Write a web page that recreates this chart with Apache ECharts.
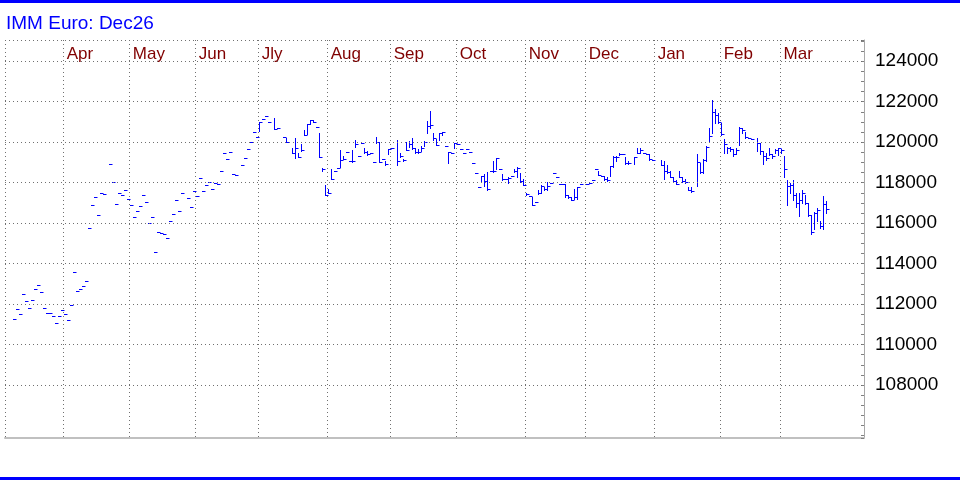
<!DOCTYPE html>
<html>
<head>
<meta charset="utf-8">
<title>IMM Euro: Dec26</title>
<script src="https://cdn.jsdelivr.net/npm/echarts@6.0.0/dist/echarts.min.js"></script>
<style>
  html, body { margin: 0; padding: 0; background: #fff; }
  #chart { width: 960px; height: 480px; }
</style>
</head>
<body>
<div id="chart"></div>
<script>
// month labels and the trading-day index where each month starts
var monthNames = ["Apr", "May", "Jun", "Jly", "Aug", "Sep", "Oct", "Nov", "Dec", "Jan", "Feb", "Mar"];
var monthStarts = [17, 39, 61, 82, 105, 126, 148, 171, 191, 214, 236, 256];

// price labels on the right axis
var yTicks = [108000, 110000, 112000, 114000, 116000, 118000, 120000, 122000, 124000];

// single-price days (no range), trading days 0..81
var earlyQuotes = [
  111250, 111750, 111500, 112500, 112150, 111800, 112200, 112750, 112950, 112600,
  111800, 111550, 111550, 111400, 111050, 111400, 111700, 111500, 111200, 111950,
  113600, 112650, 112750, 112900, 113150, 115750, 116900, 117300, 116400, 117500,
  117450, null, 118900, 118050, 116950, 117500, 117400, 117650, 117200, 116900,
  116300, 116600, 116850, 117400, 117050, 116000, 116300, 114550, 115550, 115500,
  115450, 115250, 116100, 116450, 117150, 116600, 117500, null, 117250, 116800,
  117600, 117350, 118250, 117600, 117900, 118050, 117700, 118000, 117950, 118600,
  119450, 119150, 119500, 118450, 118400, null, 118850, 119200, 119650, 120000,
  120500, 120250
];

// high / low / close bars, trading days 82..271
var highs = [
  121000, 121150, 121300, 121000, null, 121200, 120700, null,
  120250, 120200, null, 119700, 120200, 119450, 119900, 120600, 120900, 121100,
  121100, 120750, 120450, 118700, 117900, 117700, 118650, 118600, 118700, 119600,
  119300, 119500, 119050, 119600, 120100, 119300, 119950, 119700, 119550, 119450,
  119000, 120250, 120000, 119150, 119050, 119650, 119700, null, 120100, 119450,
  119150, 120000, 120050, 120200, 119700, 119650, 119800, 120050, 121050, 121550,
  120450, 120150, 120450, 120500, 119800, 119500, 119450, 119950, 119900, 119650,
  119450, 119650, 119500, 118950, 118500, 117800, 118350, 118450, 118550, 118600,
  119050, 119200, 118650, 118450, 118200, 118300, 118350, 118650, 118750, 118500,
  118200, 117500, 117350, 117300, 117050, 117650, 117900, 117800, 118050, 118000,
  118500, 118300, 117950, 117950, 117950, 117400, 117300, 117700, 117800, 117950,
  null, 117950, 118000, 118150, 118650, 118600, 118350, 118350, 118300, 118800,
  119300, 119300, 119450, 119400, 119250, 119050, null, 119250, 119700, 119700,
  119450, 119400, 119400, 119100, null, null, 119100, 119050, 118850, 118600,
  118300, 118150, 118600, 118300, 118200, 117800, 117800, null, 119400, 118950,
  119150, 119800, 120700, 122100, 121650, 121450, 120950, 120150, 119750, 119750,
  119650, 119700, 120750, 120700, 120500, 120200, 120150, null, 120200, 119950,
  119550, 119450, 119700, 119400, 119650, 119700, 119650, 119300, 118150, 118000,
  118150, 117500, 117500, 117650, 117400, 117000, 116400, 116550, 116750, 116100,
  117350, 117100
];
var lows = [
  120550, 121150, 121300, 121000, null, 120650, 120700, null,
  120250, 120000, null, 119450, 119200, 119250, 119550, 120350, 120400, 120900,
  121000, 120750, 119250, 118600, 117400, 117500, 118200, 118600, 118700, 118750,
  119150, 119500, 119050, 119000, 119750, 119300, 119950, 119450, 119350, 119450,
  119000, 119950, 119000, 119150, 118850, 119400, 119700, null, 118850, 119250,
  119050, 119600, 119750, 119650, 119450, 119450, 119550, 119800, 120450, 120700,
  120100, 119850, 120100, 120350, 119800, 118950, 119450, 119700, 119900, 119650,
  119450, 119650, 119500, 118950, 118500, 117800, 118050, 117850, 117650, 118600,
  118550, 118650, 118650, 118150, 118200, 118000, 118350, 118550, 118300, 118050,
  117900, 117400, 117350, 116900, 117050, 117450, 117500, 117650, 117650, 118000,
  118500, 118300, 117950, 117950, 117300, 117250, 117150, 117200, 117200, 117950,
  null, 117950, 118000, 118150, 118650, 118400, 118350, 118150, 118100, 118350,
  118750, 119050, 119350, 119400, 118900, 118900, null, 118900, 119450, 119450,
  119450, 119400, 119100, 119100, null, null, 118850, 118200, 118500, 118300,
  118100, 117950, 118300, 118050, 118000, 117650, 117550, null, 117850, 118500,
  118500, 119050, 120000, 120450, 120950, 120950, 120350, 119450, 119450, 119550,
  119300, 119400, 119850, 120450, 120200, 120200, 120150, null, 119550, 119400,
  118900, 119100, 119350, 119200, 119450, 119350, 119450, 118300, 116900, 117500,
  117150, 116800, 116350, 117000, 116950, 116350, 115450, 115700, 116100, 115750,
  115700, 116500
];
var closes = [
  121000, 121150, 121300, 121000, null, 120650, 120700, null,
  120250, 120000, null, 119450, 119700, 119250, 119600, 120350, 120900, 121100,
  121000, 120750, 119250, 118650, 117400, 117500, 118200, 118600, 118700, 119100,
  119150, 119500, 119050, 119050, 119900, 119300, 119950, 119500, 119400, 119450,
  119000, 120000, 119000, 119150, 118900, 119650, 119700, null, 119050, 119300,
  119100, 119600, 119900, 119700, 119500, 119500, 119700, 120000, 120800, 120850,
  120200, 119850, 120450, 120500, 119800, 119500, 119450, 119950, 119900, 119650,
  119450, 119650, 119500, 118950, 118500, 117800, 118350, 118100, 117700, 118600,
  118600, 119200, 118650, 118200, 118200, 118250, 118350, 118600, 118700, 118100,
  117900, 117450, 117350, 116900, 117050, 117500, 117850, 117700, 117850, 118000,
  118500, 118300, 117950, 117950, 117400, 117300, 117150, 117300, 117800, 117950,
  null, 117950, 118000, 118150, 118650, 118400, 118350, 118200, 118150, 118800,
  119250, 119250, 119400, 119400, 118950, 118950, null, 119250, 119450, 119600,
  119450, 119400, 119150, 119100, null, null, 118850, 118600, 118550, 118300,
  118100, 117950, 118300, 118100, 118050, 117650, 117600, null, 119000, 118550,
  119100, 119750, 120300, 121500, 121350, 121000, 120400, 119900, 119700, 119650,
  119400, 119600, 120700, 120600, 120250, 120200, 120150, null, 119950, 119550,
  119300, 119200, 119400, 119300, 119600, 119700, 119600, 118650, 117850, 117900,
  117400, 117000, 117150, 117500, 117000, 116400, 115550, 116500, 116650, 115850,
  116950, 116700
];

var xMin = -2.8, xMax = 283.6;
var yMin = 105380, yMax = 125050;

var data = [];
earlyQuotes.forEach(function (v, i) {
  if (v != null) data.push([i, v, v, v]);
});
var firstBar = earlyQuotes.length;
highs.forEach(function (h, k) {
  if (h != null) data.push([firstBar + k, h, lows[k], closes[k]]);
});

// month separators sit just left of the first day, labels a little right of it
var gridX = [xMin].concat(monthStarts.map(function (s) { return s - 0.3; }));
var labelX = monthStarts.map(function (s) { return s + 0.8; });

function renderBar(params, api) {
  var top = api.coord([api.value(0), api.value(1)]);
  var bot = api.coord([api.value(0), api.value(2)]);
  var cls = api.coord([api.value(0), api.value(3)]);
  var x = Math.round(top[0]) + 0.5;
  var yc = Math.round(cls[1]) + 0.5;
  var style = { stroke: '#0000ff', lineWidth: 1 };
  var children = [];
  if (Math.round(bot[1]) > Math.round(top[1])) {
    children.push({
      type: 'line',
      shape: { x1: x, y1: Math.round(top[1]), x2: x, y2: Math.round(bot[1]) + 1 },
      style: style
    });
  }
  children.push({
    type: 'line',
    shape: { x1: x - 0.5, y1: yc, x2: x + 3, y2: yc },
    style: style
  });
  return { type: 'group', children: children };
}

var font = 'Liberation Sans, Arial, sans-serif';
var dotted = { color: '#707070', type: [1, 3], width: 1 };
var chart = echarts.init(document.getElementById('chart'));

var option = {
  animation: false,
  backgroundColor: '#ffffff',
  title: {
    text: 'IMM Euro: Dec26',
    left: 1,
    top: 9,
    textStyle: { color: '#0000ff', fontSize: 19, fontWeight: 'normal', fontFamily: font }
  },
  graphic: [
    { type: 'rect', left: 0, top: 0, shape: { width: 960, height: 3 }, style: { fill: '#0000ff' } },
    { type: 'rect', left: 0, top: 477, shape: { width: 960, height: 3 }, style: { fill: '#0000ff' } }
  ],
  grid: { left: 5, right: 96, top: 40, bottom: 42 },
  xAxis: [
    {
      type: 'value',
      position: 'top',
      min: xMin,
      max: xMax,
      axisLine: { show: false, onZero: false },
      axisTick: { show: false, customValues: gridX },
      splitLine: { show: true, lineStyle: dotted },
      axisLabel: {
        inside: true,
        customValues: labelX,
        margin: 6,
        align: 'left',
        verticalAlign: 'top',
        color: '#800000',
        fontSize: 17,
        fontFamily: font,
        formatter: function (v) {
          for (var k = 0; k < labelX.length; k++) {
            if (Math.abs(labelX[k] - v) < 0.5) return monthNames[k];
          }
          return '';
        }
      }
    },
    {
      type: 'value',
      position: 'bottom',
      min: xMin,
      max: xMax,
      axisLine: { show: true, onZero: false, lineStyle: { color: '#c0c0c0', width: 2 } },
      axisTick: { show: false },
      axisLabel: { show: false },
      splitLine: { show: false }
    }
  ],
  yAxis: {
    type: 'value',
    position: 'right',
    min: yMin,
    max: yMax,
    splitNumber: 10,
    axisLine: { show: true, onZero: false, lineStyle: { color: '#a8a8a8', width: 1 } },
    axisTick: { show: true, inside: true, length: 3, lineStyle: { color: '#808080' } },
    minorTick: { show: true, splitNumber: 4, length: 3, lineStyle: { color: '#808080' } },
    splitLine: { show: false },
    axisLabel: {
      margin: 11,
      showMinLabel: false,
      showMaxLabel: false,
      color: '#000000',
      fontSize: 19,
      fontFamily: font,
      formatter: function (v) {
        return yTicks.indexOf(v) >= 0 ? String(v) : '';
      }
    }
  },
  series: [
    {
      type: 'custom',
      xAxisIndex: 0,
      renderItem: renderBar,
      encode: { x: 0, y: [1, 2, 3] },
      clip: true,
      data: data,
      markLine: {
        silent: true,
        symbol: ['none', 'none'],
        label: { show: false },
        lineStyle: dotted,
        emphasis: { disabled: true },
        data: yTicks.concat([yMax]).map(function (v) { return { yAxis: v }; })
      }
    }
  ]
};

chart.setOption(option);
</script>
</body>
</html>
